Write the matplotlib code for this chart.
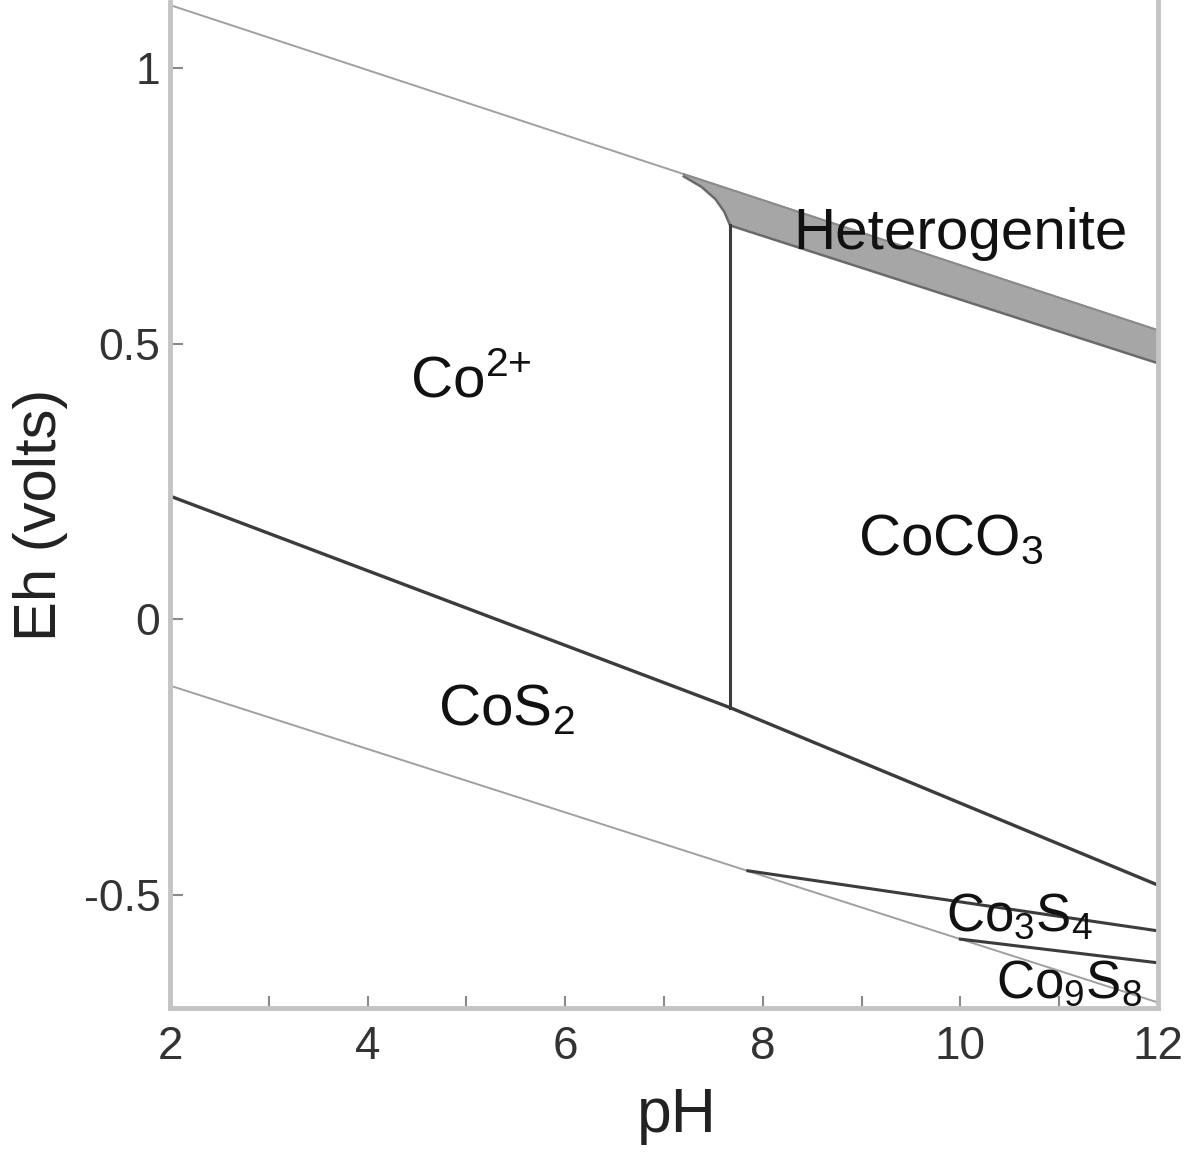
import numpy as np
import matplotlib
matplotlib.use("Agg")
import matplotlib.pyplot as plt
from matplotlib.ticker import MultipleLocator

plt.rcParams['font.family'] = ['Liberation Sans', 'DejaVu Sans']
plt.rcParams['mathtext.fontset'] = 'custom'
plt.rcParams['mathtext.rm'] = 'Liberation Sans'
plt.rcParams['mathtext.default'] = 'regular'

# Eh-pH stability fields of the Co-S-C-O-H system
# water stability limits
water_ox_ph = [2.0, 12.0]
water_ox_eh = [1.115, 0.525]
water_red_ph = [2.0, 12.0]
water_red_eh = [-0.12, -0.695]

# lower edge of the heterogenite (CoOOH) field
het_ph = [7.2, 7.38, 7.52, 7.61, 7.67, 12.0]
het_eh = [0.804, 0.785, 0.763, 0.740, 0.715, 0.465]

# Co2+ / CoCO3 boundary
co_carb_ph = [7.67, 7.67]
co_carb_eh = [-0.16, 0.715]

# upper edge of CoS2
cos2_ph = [2.0, 7.67, 12.0]
cos2_eh = [0.224, -0.16, -0.482]

# CoS2 / Co3S4 and Co3S4 / Co9S8
co3s4_ph = [7.85, 12.0]
co3s4_eh = [-0.456, -0.565]
co9s8_ph = [10.0, 12.0]
co9s8_eh = [-0.58, -0.623]

labels = ['Co$^{2{+}}$', 'Heterogenite', 'CoCO$_3$', 'CoS$_2$', 'Co$_3$S$_4$', 'Co$_9$S$_8$']
label_ph = [5.05, 10.0, 9.9, 5.4, 10.6, 11.1]
label_eh = [0.43, 0.70, 0.145, -0.165, -0.54, -0.66]
label_size = [42, 42, 42, 42, 38, 38]

fig = plt.figure(figsize=(11.84, 11.52), dpi=100)
ax = fig.add_axes([0.1436, 0.125, 0.9780 - 0.1436, 0.998 - 0.125])

light = '#a0a0a0'
dark = '#3c3c3c'

ax.plot(water_ox_ph, water_ox_eh, color=light, lw=1.4)
ax.plot(water_red_ph, water_red_eh, color=light, lw=1.4)

band_top = np.interp(het_ph, water_ox_ph, water_ox_eh)
ax.fill_between(het_ph, het_eh, band_top, color='#a6a6a6', lw=0)
ax.plot(het_ph, het_eh, color='#6a6a6a', lw=1.8)
ax.plot(het_ph, band_top, color='#8a8a8a', lw=1.4)

ax.plot(co_carb_ph, co_carb_eh, color=dark, lw=2.2)
ax.plot(cos2_ph, cos2_eh, color=dark, lw=2.4)
ax.plot(co3s4_ph, co3s4_eh, color=dark, lw=2.2)
ax.plot(co9s8_ph, co9s8_eh, color=dark, lw=2.2)

for txt, x, y, s in zip(labels, label_ph, label_eh, label_size):
    ax.text(x, y, txt, fontsize=s, ha='center', va='center', color='#111111')

ax.set_xlim(2, 12)
ax.set_ylim(-0.705, 1.12)
ax.xaxis.set_major_locator(MultipleLocator(2))
ax.xaxis.set_minor_locator(MultipleLocator(1))
ax.set_yticks([-0.5, 0, 0.5, 1])
ax.set_yticklabels(['-0.5', '0', '0.5', '1'])

for side in ['left', 'bottom', 'right']:
    ax.spines[side].set_color('#c4c4c4')
    ax.spines[side].set_linewidth(3.5)
ax.spines['top'].set_visible(False)

ax.tick_params(which='both', direction='in', length=9, width=1.5, color='#8a8a8a',
               right=False, top=False)
ax.tick_params(axis='y', labelsize=32, labelcolor='#333333', pad=7)
ax.tick_params(axis='x', labelsize=33, labelcolor='#333333', pad=12)

ax.set_xlabel('pH', fontsize=45, color='#222222')
ax.xaxis.set_label_coords(0.513, -0.078)
ax.set_ylabel('Eh (volts)', fontsize=43, color='#222222')
ax.yaxis.set_label_coords(-0.103, 0.49)

fig.savefig('out.png', dpi=100, facecolor='white')
